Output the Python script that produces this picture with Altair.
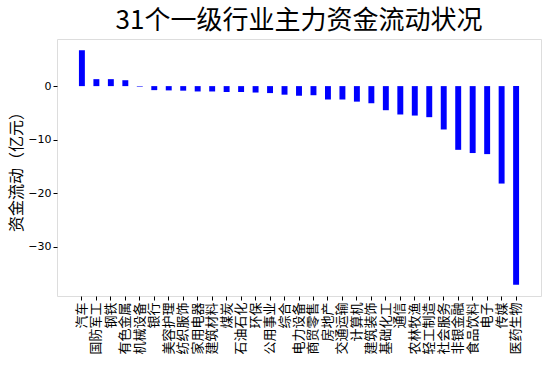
import altair as alt
import pandas as pd

industries = ["汽车", "国防军工", "钢铁", "有色金属", "机械设备", "银行", "美容护理", "纺织服饰",
              "家用电器", "建筑材料", "煤炭", "石油石化", "环保", "公用事业", "综合", "电力设备",
              "商贸零售", "房地产", "交通运输", "计算机", "建筑装饰", "基础化工", "通信", "农林牧渔",
              "轻工制造", "社会服务", "非银金融", "食品饮料", "电子", "传媒", "医药生物"]
flows = [6.7, 1.3, 1.3, 1.1, -0.1, -0.75, -0.8, -0.85,
         -1.0, -1.0, -1.1, -1.1, -1.2, -1.3, -1.6, -1.8,
         -1.7, -2.5, -2.5, -2.9, -3.2, -4.5, -5.3, -5.5,
         -5.8, -8.1, -11.9, -12.5, -12.7, -18.2, -37.1]
y_ticks = [0, -10, -20, -30]

df = pd.DataFrame({"行业": industries, "资金流动": flows})

font = "Noto Sans CJK SC"

chart = alt.Chart(df).mark_bar(color="#0000ff").encode(
    x=alt.X("行业:N", sort=industries,
            scale=alt.Scale(domain=industries, paddingInner=0.59, paddingOuter=0.5,
                            range=[14.7, 469.3]),
            axis=alt.Axis(title=None, labelAngle=270, labelFont=font, labelFontSize=13,
                          labelColor="black", tickColor="black", tickSize=4, labelPadding=2,
                          domain=False, labelLimit=0)),
    y=alt.Y("资金流动:Q",
            scale=alt.Scale(domain=[-39.2, 8.8], nice=False, zero=False),
            axis=alt.Axis(title="资金流动（亿元）", values=y_ticks, titleFont=font,
                          titleFontSize=16, titleFontWeight="normal", titleColor="black",
                          titlePadding=3, labelFont="DejaVu Sans", labelFontSize=11,
                          labelColor="black", tickColor="black", tickSize=4, grid=False,
                          domain=False, labelExpr="replace(datum.label, '-', '−')")),
).properties(
    width=484, height=257,
    title=alt.TitleParams("31个一级行业主力资金流动状况", font=font, fontSize=26,
                          fontWeight="normal", color="black", anchor="middle", offset=5),
    autosize=alt.AutoSizeParams(type="none"),
    padding={"left": 57, "top": 39, "right": 9, "bottom": 81},
).configure_view(stroke="black", strokeWidth=1).configure(background="white")

chart.save("out.html", embed_options={"renderer": "svg", "actions": False})
